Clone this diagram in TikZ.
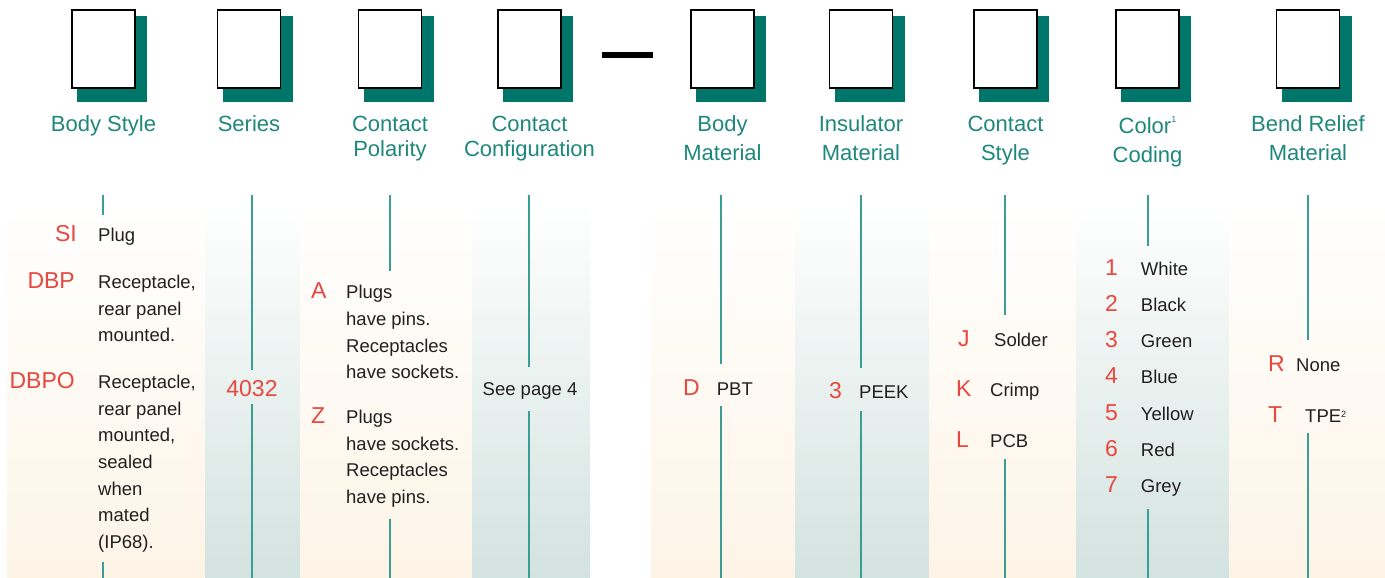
\documentclass[tikz,border=0pt]{standalone}
\usepackage{fontspec}
\setmainfont{Liberation Sans}
\usetikzlibrary{positioning}
\definecolor{shadeteal}{HTML}{00766B}
\definecolor{headteal}{HTML}{1E877C}
\definecolor{ruleteal}{HTML}{3A9E94}
\definecolor{codered}{HTML}{E8473F}
\definecolor{warmband}{HTML}{FDF4E6}
\definecolor{coolband}{HTML}{D3E3DF}
\definecolor{bodytext}{HTML}{231F20}
\newcommand{\footmark}[3]{{\fontsize{#1}{#1}\selectfont\raisebox{#2}{#3}}}

\begin{document}
\begin{tikzpicture}[x=1pt, y=-1pt,
	box/.style={draw, line width=1.4pt, fill=white, minimum width=63pt, minimum height=78pt, inner sep=0pt},
	head/.style={anchor=north, align=center, inner sep=0pt, text=headteal, font=\fontsize{22}{25.7}\selectfont},
	headwide/.style={head, font=\fontsize{22}{29}\selectfont},
	code/.style={anchor=base west, inner sep=0pt, text=codered, font=\fontsize{23}{26}\selectfont},
	opt/.style={anchor=base west, inner sep=0pt, text=bodytext, font=\fontsize{18.5}{26.7}\selectfont},
	optblock/.style={opt, anchor=north west, align=left},
	rule/.style={ruleteal, line width=1.8pt}]

	\useasboundingbox (0,0) rectangle (1385,578);

	% bands behind the options
	\foreach \a/\b/\c in {7/205/warmband, 205/300/coolband, 300/472/warmband, 472/590/coolband,
		651/795/warmband, 795/929/coolband, 929/1076/warmband, 1076/1229/coolband, 1229/1385/warmband}
		\shade[top color=white, bottom color=\c] (\a,200) rectangle (\b,578);

	% code boxes
	\foreach \x/\n in {103.5/bs, 249/se, 390/cp, 529.5/cc, 722.5/bm, 861/im, 1005.5/cs, 1147.5/co, 1308/br} {
		\fill[shadeteal] (\x-26.5,16) rectangle (\x+43.5,102);
		\node[box] (\n) at (\x,49) {};
	}
	\draw[line width=6pt] (601.7,55) -- (652.7,55);

	% headings
	\node[head, below=27pt of bs] (hbs) {Body Style};
	\node[head, below=27pt of se] (hse) {Series};
	\node[head, below=27pt of cp] (hcp) {Contact\\Polarity};
	\node[head, below=27pt of cc] (hcc) {Contact\\Configuration};
	\node[headwide, below=27pt of bm] (hbm) {Body\\Material};
	\node[headwide, below=27pt of im] (him) {Insulator\\Material};
	\node[headwide, below=27pt of cs] (hcs) {Contact\\Style};
	\node[headwide, below=27pt of co] (hco) {Color\footmark{9}{11pt}{1}\\Coding};
	\node[headwide, below=27pt of br] (hbr) {Bend Relief\\Material};

	% column rules
	\foreach \x/\t/\b in {103/215/562, 252/370/404, 390/271/519, 529/367/411, 721/364/406,
		861/368/411, 1005/315/459, 1148/246/509, 1308/340/433} {
		\draw[rule] (\x,195) -- (\x,\t);
		\draw[rule] (\x,\b) -- (\x,578);
	}

	% Body Style
	\node[code, anchor=base east] (si) at (77,241.7) {SI};
	\node[opt] (sit) at (98,241.7) {Plug};
	\node[code, anchor=base east] (dbp) at (75,288) {DBP};
	\node[optblock] (dbpt) at (98,274.7) {Receptacle,\\rear panel\\mounted.};
	\node[code, anchor=base east] (dbpo) at (75,388) {DBPO};
	\node[optblock] (dbpot) at (98,374.7) {Receptacle,\\rear panel\\mounted,\\sealed\\when\\mated\\(IP68).};

	% Series
	\node[code, anchor=base] (ser) at (252,396.7) {4032};

	% Contact Polarity
	\node[code] (pa) at (311,298.3) {A};
	\node[optblock] (pat) at (346,285) {Plugs\\have pins.\\Receptacles\\have sockets.};
	\node[code] (pz) at (311,423) {Z};
	\node[optblock] (pzt) at (346,409.7) {Plugs\\have sockets.\\Receptacles\\have pins.};

	% Contact Configuration
	\node[opt, anchor=base] (cfg) at (530,395) {See page 4};

	% Body Material
	\node[code] (md) at (683,395) {D};
	\node[opt] (mdt) at (716.7,395) {PBT};

	% Insulator Material
	\node[code] (i3) at (829,398) {3};
	\node[opt] (i3t) at (859,398) {PEEK};

	% Contact Style
	\node[code] (sj) at (958,346.7) {J};
	\node[opt] (sjt) at (994,346.7) {Solder};
	\node[code] (sk) at (956,396.7) {K};
	\node[opt] (skt) at (990,396.7) {Crimp};
	\node[code] (sl) at (956,447.3) {L};
	\node[opt] (slt) at (990,447.3) {PCB};

	% Color Coding
	\foreach \n/\c [count=\i from 0] in {1/White, 2/Black, 3/Green, 4/Blue, 5/Yellow, 6/Red, 7/Grey} {
		\node[code] (c\n) at (1105,275+36.3*\i) {\n};
		\node[opt] (c\n t) at (1140.7,275+36.3*\i) {\c};
	}

	% Bend Relief Material
	\node[code] (rr) at (1268,371.7) {R};
	\node[opt] (rrt) at (1296,371.7) {None};
	\node[code] (rt) at (1268,422.3) {T};
	\node[opt] (rtt) at (1305,422.3) {TPE\footmark{9}{5pt}{2}};

\end{tikzpicture}
\end{document}
